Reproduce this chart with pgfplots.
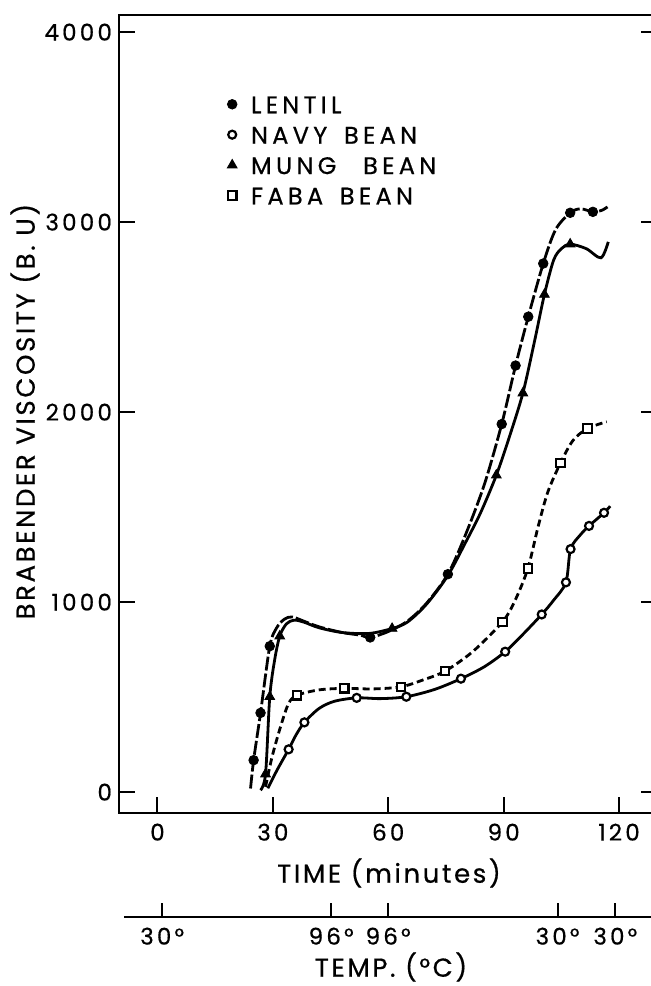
\documentclass[border=0pt]{standalone}
\usepackage{pgfplots}
\pgfplotsset{compat=1.18}
\usepackage{fontspec}
\setmainfont{Poppins}[LetterSpace=10, FakeBold=0.6]
\begin{document}
\begin{tikzpicture}
\begin{axis}[
  at={(0pt,0pt)}, anchor=south west,
  scale only axis, width=269.25pt, height=399pt,
  xmin=-10, xmax=130, ymin=-110, ymax=4090,
  xtick={0,30,60,90,120}, ytick={0,1000,2000,3000,4000},
  xtick pos=left, ytick pos=both,
  tick align=inside, major tick length=8pt,
  axis line style={line width=1pt},
  every tick/.style={line width=1pt, black},
  tick label style={font=\fontsize{11.5}{13}\selectfont\addfontfeatures{LetterSpace=14}},
  xticklabel style={yshift=-1.8pt},
  /pgf/number format/assume math mode=true,
  /pgf/number format/1000 sep={},
  xlabel={TIME (minutes)},
  ylabel={BRABENDER VISCOSITY (B. U)},
  label style={font=\fontsize{13}{15}\selectfont},
  xlabel style={at={(axis description cs:0.5014,-0.0752)}, anchor=center},
  ylabel style={at={(axis description cs:-0.1746,0.503)}, anchor=center},
  legend style={at={(axis description cs:0.2005,0.9024)}, anchor=north west,
    draw=none, fill=none, inner sep=0pt, row sep=4.2pt,
    font=\fontsize{12}{14}\selectfont\addfontfeatures{LetterSpace=18},
    nodes={inner sep=1pt, text height=9pt, text depth=0pt},
    /tikz/every odd column/.append style={column sep=6pt}},
  legend cell align=left,
  legend image code/.code={\draw[#1] plot coordinates {(0pt,0pt)};},
  clip=false,
]
% curves
\addplot[forget plot, smooth, line width=1.4pt, dash pattern=on 7pt off 1.5pt] coordinates {
(24.2,19) (25.0,168) (26.8,417) (29.2,768) (31.0,865) (33.0,910) (35.0,922) (38,900) (42,870) (48,840) (52.7,826) (55.3,814) (60,845) (65,900) (70,995) (75.5,1147) (80,1350) (85,1620) (89.5,1937) (93.1,2245) (96.4,2502) (100.3,2782) (103.5,2960) (107.3,3049) (110,3070) (113.2,3054) (115.5,3062) (117,3080)};
\addplot[forget plot, smooth, line width=1.4pt] coordinates {
(26.8,10) (28.1,95) (29.2,502) (30.5,700) (31.8,821) (33.5,885) (35.5,905) (38,895) (42,865) (48,840) (55,835) (61,861) (65,895) (70,990) (75.5,1140) (80,1310) (84,1470) (88.1,1668) (91.5,1870) (95,2100) (98,2370) (100.6,2619) (103,2800) (105,2860) (107.3,2884) (111.5,2860) (115.3,2812) (117.2,2896)};
\addplot[forget plot, smooth, line width=1.4pt] coordinates {
(28.7,20) (31.1,116) (34.1,225) (36,300) (38.2,367) (42,440) (46,478) (51.8,496) (58,492) (64.7,502) (72,540) (78.9,597) (85,660) (90.4,739) (95,830) (99.9,935) (103,1010) (106.2,1104) (107.4,1279) (110,1355) (112.2,1401) (116.1,1470) (117.7,1505)};
\addplot[forget plot, smooth, line width=1.4pt, dash pattern=on 3.5pt off 2pt] coordinates {
(28.1,28) (29.8,186) (32,344) (34.1,467) (36.3,510) (42,538) (48.6,546) (56,543) (63.3,554) (69,590) (74.8,637) (82,740) (89.7,896) (93,1010) (96.3,1177) (99,1400) (101.5,1580) (104.8,1733) (108,1850) (111.8,1914) (116.8,1949)};
% marks
\addplot[only marks, mark=*, mark size=2.4pt, mark options={fill=black, draw=black}] coordinates {
(25.0,168) (26.8,417) (29.2,768) (55.3,814) (75.5,1147) (89.5,1937) (93.1,2245) (96.4,2502) (100.3,2782) (107.3,3049) (113.2,3054)};
\addlegendentry{LENTIL}
\addplot[only marks, mark=*, mark size=2pt, mark options={fill=white, draw=black, line width=1.1pt}] coordinates {
(34.1,225) (38.2,367) (51.8,496) (64.7,502) (78.9,597) (90.4,739) (99.9,935) (106.2,1104) (107.4,1279) (112.2,1401) (116.1,1470)};
\addlegendentry{NAVY\hspace{3pt} BEAN}
\addplot[only marks, mark=triangle*, mark size=2.8pt, mark options={fill=black, draw=black}] coordinates {
(28.1,95) (29.2,502) (31.8,821) (61,861) (88.1,1668) (95,2100) (100.6,2619) (107.3,2884)};
\addlegendentry{MUNG\hspace{8pt} BEAN}
\addplot[only marks, mark=square*, mark size=2.1pt, mark options={fill=white, draw=black, line width=1.1pt}] coordinates {
(36.3,510) (48.6,546) (63.3,554) (74.8,637) (89.7,896) (96.3,1177) (104.8,1733) (111.8,1914)};
\addlegendentry{FABA\hspace{3pt} BEAN}
\end{axis}
\begin{axis}[
  at={(2.5pt,-52pt)}, anchor=south west,
  scale only axis, width=266.8pt, height=10pt,
  xmin=-8.6, xmax=130, ymin=0, ymax=1,
  axis x line*=bottom, axis y line=none,
  axis line style={line width=1pt},
  every tick/.style={line width=1pt, black},
  xtick={1.3,45.2,60,104,119}, xticklabels={30°,96°,96°,30°,30°},
  tick align=inside, major tick length=7pt,
  tick label style={font=\fontsize{11.5}{13}\selectfont\addfontfeatures{LetterSpace=14}},
  xticklabel style={yshift=-1.8pt},
  xlabel={TEMP. (°C)},
  label style={font=\fontsize{13}{15}\selectfont},
  xlabel style={at={(axis description cs:0.5004,-2.5)}, anchor=center},
]
\end{axis}
\pgfresetboundingbox
\useasboundingbox (-59.5pt,-86.5pt) rectangle (265.5pt,406.5pt);
\end{tikzpicture}
\end{document}
